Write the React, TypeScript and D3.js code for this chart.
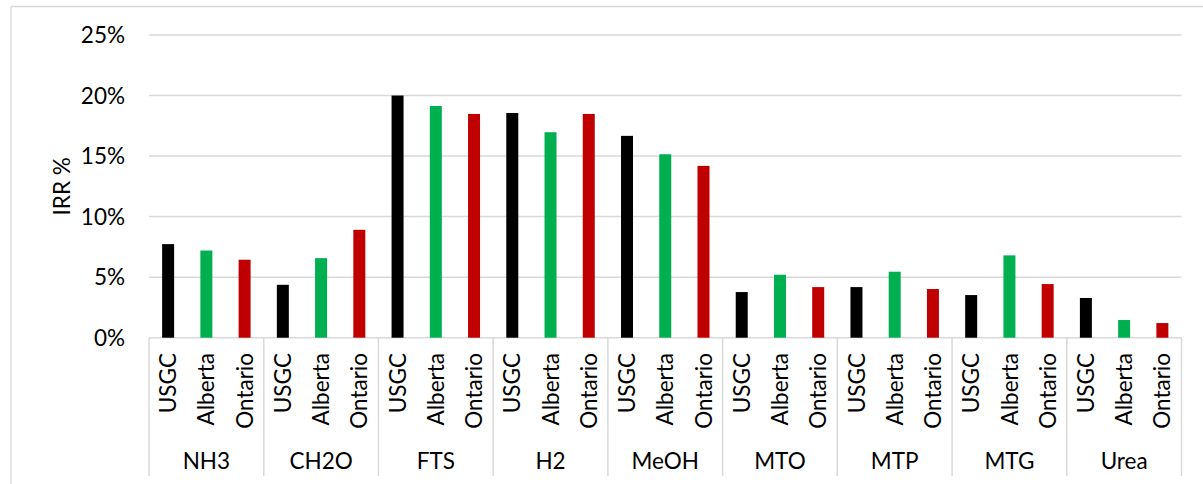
import React from 'react';
import * as d3 from 'd3';

const categories = ['NH3', 'CH2O', 'FTS', 'H2', 'MeOH', 'MTO', 'MTP', 'MTG', 'Urea'];
const regions = ['USGC', 'Alberta', 'Ontario'];
const usgc = [7.73, 4.37, 20.0, 18.56, 16.67, 3.77, 4.18, 3.52, 3.28];
const alberta = [7.2, 6.57, 19.14, 16.97, 15.15, 5.2, 5.45, 6.8, 1.46];
const ontario = [6.44, 8.91, 18.48, 18.48, 14.19, 4.18, 4.02, 4.43, 1.21];
const yTicks = [0, 5, 10, 15, 20, 25];
const colors = ['#000000', '#00B050', '#C00000'];
const yTitle = 'IRR %';

const W = 1203;
const H = 484;
const FONT = 'Lato, "Liberation Sans", sans-serif';
const FS = 22.5;

export default function App() {
  const left = 149;
  const right = 1181.5;
  const top = 35;
  const bottom = 337.7;
  const y = d3.scaleLinear().domain([0, 25]).range([bottom, top]);
  const x0 = d3.scaleBand().domain(categories).range([left, right]).paddingInner(0).paddingOuter(0);
  const x1 = d3.scaleBand().domain(regions).range([0, x0.bandwidth()]).padding(0);
  const barW = 12;
  const series = [usgc, alberta, ontario];
  const gridColor = '#D9D9D9';

  return (
    <svg width={W} height={H} style={{ position: 'absolute', left: 0, top: 0 }} fontFamily={FONT}>
      <rect x={0} y={0} width={W} height={H} fill="#fff" />
      <line x1={11} y1={6.5} x2={W} y2={6.5} stroke={gridColor} strokeWidth={1.3} />
      <line x1={11} y1={6.5} x2={11} y2={H} stroke={gridColor} strokeWidth={1.3} />
      {yTicks.map((t) => (
        <g key={t}>
          <line x1={left} x2={right} y1={y(t)} y2={y(t)} stroke={gridColor} strokeWidth={1.5} />
          <text x={125} y={y(t)} dy="0.36em" textAnchor="end" fontSize={FS} fill="#000">
            {t}%
          </text>
        </g>
      ))}
      {categories.map((c, ci) =>
        regions.map((r, ri) => {
          const cx = (x0(c) as number) + (x1(r) as number) + x1.bandwidth() / 2;
          const v = series[ri][ci];
          return (
            <rect key={c + r} x={cx - barW / 2} y={y(v)} width={barW} height={y(0) - y(v)} fill={colors[ri]} />
          );
        })
      )}
      {categories.concat(['__end']).map((c, i) => {
        const xx = i < categories.length ? (x0(c) as number) : right;
        return <line key={'sep' + i} x1={xx} x2={xx} y1={bottom} y2={476} stroke={gridColor} strokeWidth={1.5} />;
      })}
      {categories.map((c) =>
        regions.map((r) => {
          const cx = (x0(c) as number) + (x1(r) as number) + x1.bandwidth() / 2;
          return (
            <text
              key={'l' + c + r}
              transform={`translate(${cx},${353}) rotate(-90)`}
              textAnchor="end"
              dy="0.36em"
              fontSize={FS}
              fill="#000"
            >
              {r}
            </text>
          );
        })
      )}
      {categories.map((c) => (
        <text
          key={'c' + c}
          x={(x0(c) as number) + x0.bandwidth() / 2}
          y={461}
          dy="0.36em"
          textAnchor="middle"
          fontSize={FS}
          fill="#000"
        >
          {c}
        </text>
      ))}
      <text transform={`translate(${62},${(top + bottom) / 2}) rotate(-90)`} textAnchor="middle" dy="0.36em" fontSize={FS} fill="#000">
        {yTitle}
      </text>
    </svg>
  );
}
